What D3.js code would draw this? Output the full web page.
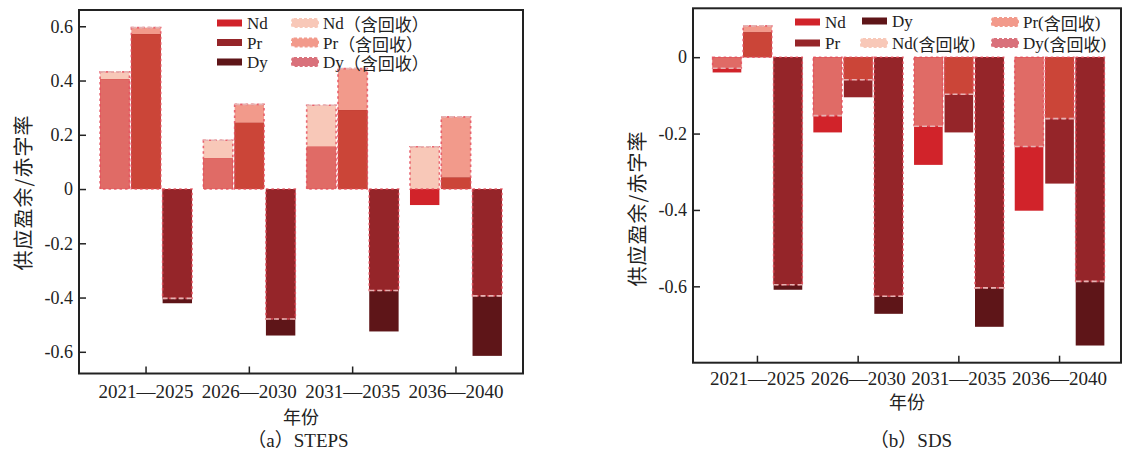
<!DOCTYPE html>
<html>
<head>
<meta charset="utf-8">
<script src="https://cdn.jsdelivr.net/npm/d3@7/dist/d3.min.js"></script>
<style>
  html, body { margin: 0; padding: 0; background: #fff; }
  svg { display: block; }
  text { font-family: "Liberation Serif", "Noto Sans CJK SC", serif; fill: #222; }
</style>
</head>
<body>
<svg id="chart" width="1123" height="455"></svg>
<script>
// Supply surplus / deficit rate by period, two scenarios
const categories = ["2021—2025", "2026—2030", "2031—2035", "2036—2040"];
const elements = ["Nd", "Pr", "Dy"];

// STEPS scenario
const stepsNd = [0.405, 0.113, 0.156, -0.059];
const stepsNdRecycled = [0.432, 0.180, 0.309, 0.156];
const stepsPr = [0.571, 0.244, 0.291, 0.042];
const stepsPrRecycled = [0.595, 0.312, 0.444, 0.266];
const stepsDy = [-0.421, -0.540, -0.525, -0.615];
const stepsDyRecycled = [-0.403, -0.479, -0.374, -0.394];

// SDS scenario
const sdsNd = [-0.040, -0.197, -0.282, -0.402];
const sdsNdRecycled = [-0.029, -0.153, -0.181, -0.234];
const sdsPr = [0.065, -0.105, -0.197, -0.331];
const sdsPrRecycled = [0.082, -0.059, -0.097, -0.161];
const sdsDy = [-0.609, -0.672, -0.706, -0.755];
const sdsDyRecycled = [-0.596, -0.626, -0.604, -0.587];

const stepsTicks = [-0.6, -0.4, -0.2, 0, 0.2, 0.4, 0.6];
const sdsTicks = [-0.6, -0.4, -0.2, 0];

const recycledSuffixSteps = "（含回收）";
const recycledSuffixSds = "(含回收)";

const SERIF = "'Liberation Serif', 'Times New Roman', serif";
const CJK = "'Noto Sans CJK SC', sans-serif";

// colours: plain supply, recycled-only part, and the part where both overlap
const baseColor = { Nd: "#d1232a", Pr: "#952529", Dy: "#5e1518" };
const recColor = { Nd: "#f8c8b8", Pr: "#f29a8b", Dy: "#d9717b" };
const overlapColor = { Nd: "#e06b66", Pr: "#cb4538", Dy: "#952529" };

const svg = d3.select("#chart");

function fmt(d) {
  if (Math.abs(d) < 1e-9) return "0";
  return (d < 0 ? "-" : "") + Math.abs(d).toFixed(1);
}

// writes mixed Latin / CJK text as separate runs so each uses its own face
function mixedText(sel, str) {
  const parts = str.match(/[\u3000-\u9fff\uff00-\uffef]+|[^\u3000-\u9fff\uff00-\uffef]+/g) || [];
  parts.forEach(s => {
    const cjk = /[\u3000-\u9fff\uff00-\uffef]/.test(s);
    sel.append("tspan").style("font-family", cjk ? CJK : SERIF).text(s);
  });
  return sel;
}

function drawPanel(p) {
  const g = svg.append("g");
  const y = d3.scaleLinear().domain(p.yDomain).range([p.y1, p.y0]);
  const x0 = d3.scaleBand().domain(categories).range([p.x0, p.xr])
    .paddingInner(0).paddingOuter(p.outer);
  const gw = x0.step() * 0.89;
  const x1 = d3.scaleBand().domain(elements).range([-gw / 2, gw / 2]).paddingInner(0.06);

  const series = {
    Nd: { base: p.data.Nd, rec: p.data.NdRec },
    Pr: { base: p.data.Pr, rec: p.data.PrRec },
    Dy: { base: p.data.Dy, rec: p.data.DyRec }
  };

  const bars = [];
  categories.forEach((c, i) => {
    elements.forEach(e => {
      bars.push({ cat: c, el: e, base: series[e].base[i], rec: series[e].rec[i] });
    });
  });

  const bx = d => x0(d.cat) + x0.bandwidth() / 2 + x1(d.el);
  const bw = x1.bandwidth();
  const rectY = v => Math.min(y(0), y(v));
  const rectH = v => Math.abs(y(v) - y(0));

  const barG = g.append("g");
  // recycled-scenario bar
  barG.selectAll("rect.rec").data(bars).join("rect").attr("class", "rec")
    .attr("x", bx).attr("width", bw)
    .attr("y", d => rectY(d.rec)).attr("height", d => rectH(d.rec))
    .attr("fill", d => recColor[d.el]);
  // plain bar
  barG.selectAll("rect.base").data(bars).join("rect").attr("class", "base")
    .attr("x", bx).attr("width", bw)
    .attr("y", d => rectY(d.base)).attr("height", d => rectH(d.base))
    .attr("fill", d => baseColor[d.el]);
  // shared part of both bars
  const ov = d => (d.base * d.rec > 0) ? (Math.abs(d.base) < Math.abs(d.rec) ? d.base : d.rec) : 0;
  barG.selectAll("rect.ov").data(bars).join("rect").attr("class", "ov")
    .attr("x", bx).attr("width", bw)
    .attr("y", d => rectY(ov(d))).attr("height", d => rectH(ov(d)))
    .attr("fill", d => overlapColor[d.el]);
  // dashed outline of the recycled bar
  barG.selectAll("rect.out").data(bars).join("rect").attr("class", "out")
    .attr("x", bx).attr("width", bw)
    .attr("y", d => rectY(d.rec)).attr("height", d => rectH(d.rec))
    .attr("fill", "none").attr("stroke", "#e5505e").attr("stroke-opacity", 0.85)
    .attr("stroke-width", 1.6).attr("stroke-dasharray", "2.5,3");
  barG.selectAll("line.end").data(bars).join("line").attr("class", "end")
    .attr("x1", bx).attr("x2", d => bx(d) + bw)
    .attr("y1", d => y(d.rec)).attr("y2", d => y(d.rec))
    .attr("stroke", "#e6b2b2").attr("stroke-width", 1.6).attr("stroke-dasharray", "5,3");

  // axes
  const yAxis = d3.axisLeft(y).tickValues(p.ticks).tickFormat(fmt)
    .tickSizeInner(-7).tickSizeOuter(0).tickPadding(6);
  const ya = g.append("g").attr("transform", `translate(${p.x0},0)`).call(yAxis)
    .attr("font-family", SERIF).attr("font-size", 18);
  ya.select(".domain").remove();
  ya.selectAll("line").attr("stroke", "#222").attr("stroke-width", 1.5);
  ya.selectAll("text").attr("fill", "#222").style("font-family", SERIF).style("font-size", "18px");

  const xAxis = d3.axisBottom(x0).tickSizeInner(-7).tickSizeOuter(0).tickPadding(p.xPad);
  const xa = g.append("g").attr("transform", `translate(0,${p.y1})`).call(xAxis)
    .attr("font-family", SERIF).attr("font-size", 19);
  xa.select(".domain").remove();
  xa.selectAll("line").attr("stroke", "#222").attr("stroke-width", 1.5);
  xa.selectAll("text").attr("fill", "#222").style("font-family", SERIF).style("font-size", "19px");

  // frame
  g.append("rect").attr("x", p.x0).attr("y", p.y0)
    .attr("width", p.xf - p.x0).attr("height", p.y1 - p.y0)
    .attr("fill", "none").attr("stroke", "#222").attr("stroke-width", 2);

  // titles
  g.append("text").attr("transform", `translate(${p.ylabX},${p.ylabY}) rotate(-90)`)
    .attr("text-anchor", "middle").attr("dominant-baseline", "central")
    .attr("font-size", 20).attr("fill", "#333").style("font-family", CJK)
    .attr("textLength", 155).attr("lengthAdjust", "spacing")
    .text("供应盈余/赤字率");
  g.append("text").attr("x", p.xlabX).attr("y", p.xlabY).attr("text-anchor", "middle")
    .attr("font-size", 18).style("font-family", CJK).text("年份");
  mixedText(g.append("text").attr("x", p.capX).attr("y", p.capY).attr("text-anchor", "middle")
    .attr("font-size", 19), p.caption);

  // legend
  const lg = g.append("g");
  p.legend.forEach(it => {
    if (it.rec) {
      lg.append("rect").attr("x", it.x).attr("y", it.y - 4).attr("width", 26).attr("height", 8)
        .attr("rx", 2).attr("fill", recColor[it.el])
        .attr("stroke", recColor[it.el]).attr("stroke-width", 2).attr("stroke-dasharray", "3,2");
    } else {
      lg.append("rect").attr("x", it.x).attr("y", it.y - 3.5).attr("width", 25).attr("height", 7)
        .attr("fill", baseColor[it.el]);
    }
    mixedText(lg.append("text").attr("x", it.x + (it.rec ? 31 : 30)).attr("y", it.y)
      .attr("dominant-baseline", "central").attr("font-size", 17),
      it.rec ? it.el + p.recSuffix : it.el);
  });
}

drawPanel({
  x0: 79, xr: 523, xf: 523, y0: 10, y1: 373.5, outer: 0.149,
  yDomain: [-0.68, 0.66], ticks: stepsTicks, xPad: 11,
  data: { Nd: stepsNd, NdRec: stepsNdRecycled, Pr: stepsPr, PrRec: stepsPrRecycled, Dy: stepsDy, DyRec: stepsDyRecycled },
  ylabX: 22, ylabY: 193, xlabX: 301, xlabY: 424, capX: 298, capY: 447,
  caption: "（a）STEPS", recSuffix: recycledSuffixSteps,
  legend: [
    { el: "Nd", rec: false, x: 217, y: 23 },
    { el: "Pr", rec: false, x: 217, y: 42.5 },
    { el: "Dy", rec: false, x: 217, y: 62 },
    { el: "Nd", rec: true, x: 292, y: 23 },
    { el: "Pr", rec: true, x: 292, y: 42.5 },
    { el: "Dy", rec: true, x: 292, y: 62 }
  ]
});

drawPanel({
  x0: 693, xr: 1124, xf: 1121, y0: 8.3, y1: 362.7, outer: 0.14,
  yDomain: [-0.8, 0.128], ticks: sdsTicks, xPad: 9,
  data: { Nd: sdsNd, NdRec: sdsNdRecycled, Pr: sdsPr, PrRec: sdsPrRecycled, Dy: sdsDy, DyRec: sdsDyRecycled },
  ylabX: 636, ylabY: 209, xlabX: 907, xlabY: 409, capX: 911, capY: 447,
  caption: "（b）SDS", recSuffix: recycledSuffixSds,
  legend: [
    { el: "Nd", rec: false, x: 795, y: 22 },
    { el: "Pr", rec: false, x: 795, y: 43 },
    { el: "Dy", rec: false, x: 862, y: 21 },
    { el: "Nd", rec: true, x: 861, y: 43 },
    { el: "Pr", rec: true, x: 992, y: 22 },
    { el: "Dy", rec: true, x: 992, y: 43 }
  ]
});
</script>
</body>
</html>
